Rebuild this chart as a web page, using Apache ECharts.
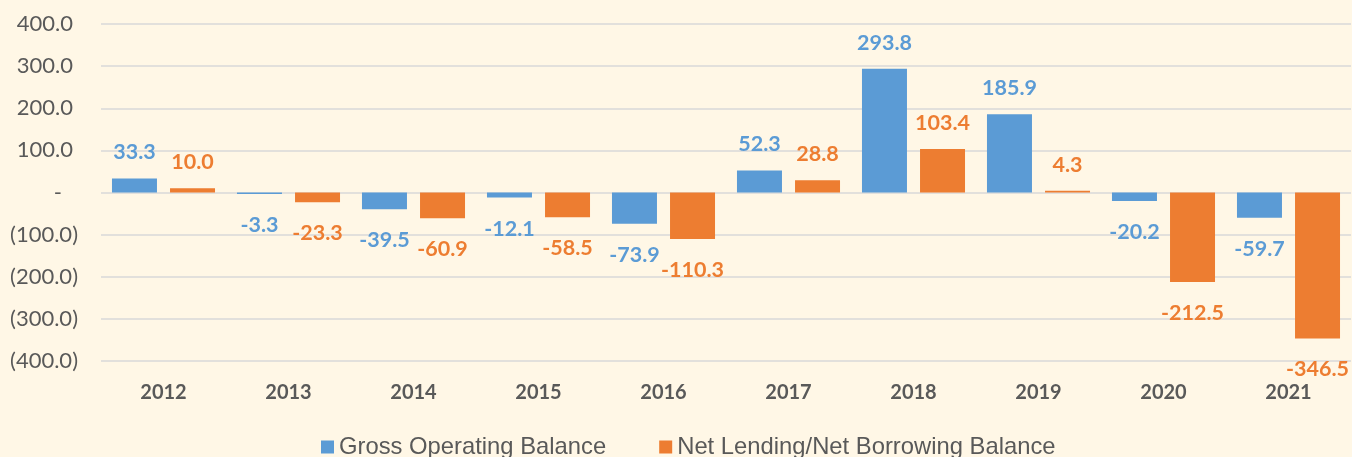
<!DOCTYPE html>
<html>
<head>
<meta charset="utf-8">
<script src="https://cdn.jsdelivr.net/npm/echarts@6/dist/echarts.min.js"></script>
<style>
  html, body { margin: 0; padding: 0; background: #FFF7E6; }
  #main { width: 1352px; height: 457px; }
</style>
</head>
<body>
<div id="main"></div>
<script>
// 数据
var years = ['2012', '2013', '2014', '2015', '2016', '2017', '2018', '2019', '2020', '2021'];
var grossOperating = [33.3, -3.3, -39.5, -12.1, -73.9, 52.3, 293.8, 185.9, -20.2, -59.7];
var netLending = [10.0, -23.3, -60.9, -58.5, -110.3, 28.8, 103.4, 4.3, -212.5, -346.5];
var yTicks = [-400, -300, -200, -100, 0, 100, 200, 300, 400];

var blue = '#5B9BD5';
var orange = '#ED7D31';
var gray = '#595959';

// 正值标签在上，负值标签在下
function withLabels(values) {
  return values.map(function (v) {
    return {
      value: v,
      label: v < 0 ? { position: 'bottom', distance: 20 } : { position: 'top', distance: 15 }
    };
  });
}

var myChart = echarts.init(document.getElementById('main'));

var option = {
  backgroundColor: '#FFF7E6',
  animation: false,
  grid: { left: 101, right: 1, top: 24, bottom: 96 },
  legend: {
    left: 316,
    top: 430,
    icon: 'rect',
    itemWidth: 13,
    itemHeight: 13,
    itemGap: 53,
    textStyle: {
      fontFamily: '"Liberation Sans", Arial',
      fontSize: 23.8,
      color: gray
    },
    data: ['Gross Operating Balance', 'Net Lending/Net Borrowing Balance']
  },
  xAxis: {
    type: 'category',
    data: years,
    position: 'bottom',
    axisLine: { show: false, onZero: false },
    axisTick: { show: false },
    axisLabel: {
      margin: 22,
      fontFamily: 'Lato',
      fontWeight: 'bold',
      fontSize: 20,
      color: gray
    }
  },
  yAxis: {
    type: 'value',
    min: yTicks[0],
    max: yTicks[yTicks.length - 1],
    interval: 100,
    axisLine: { show: false },
    axisTick: { show: false },
    splitLine: { lineStyle: { color: '#D9D9D9', width: 1.5 } },
    axisLabel: {
      margin: 23,
      fontFamily: 'Lato',
      fontSize: 22,
      color: gray,
      formatter: function (v) {
        if (v === 0) return '{z|-}';
        if (v < 0) return '(' + Math.abs(v).toFixed(1) + ')';
        return '{p|' + v.toFixed(1) + '}';
      },
      rich: {
        p: { fontFamily: 'Lato', fontSize: 22, color: gray, padding: [0, 5, 0, 0] },
        z: { fontFamily: 'Lato', fontSize: 22, color: gray, padding: [0, 16, 0, 0] }
      }
    }
  },
  series: [
    {
      name: 'Gross Operating Balance',
      type: 'bar',
      barWidth: 45,
      barGap: '29%',
      itemStyle: { color: blue },
      label: {
        show: true,
        fontFamily: 'Lato',
        fontWeight: 'bold',
        fontSize: 21.5,
        color: blue,
        formatter: function (p) { return p.value.toFixed(1); }
      },
      data: withLabels(grossOperating)
    },
    {
      name: 'Net Lending/Net Borrowing Balance',
      type: 'bar',
      barWidth: 45,
      barGap: '29%',
      itemStyle: { color: orange },
      label: {
        show: true,
        fontFamily: 'Lato',
        fontWeight: 'bold',
        fontSize: 21.5,
        color: orange,
        formatter: function (p) { return p.value.toFixed(1); }
      },
      data: withLabels(netLending)
    }
  ]
};

myChart.setOption(option);
</script>
</body>
</html>
